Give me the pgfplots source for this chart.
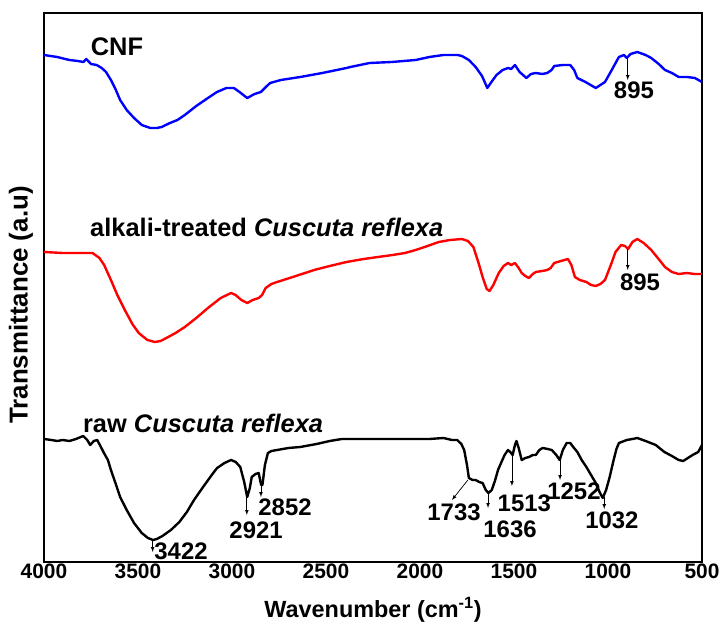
\documentclass[border=0pt]{standalone}
\usepackage{fontspec}
\setmainfont{Liberation Sans}
\usepackage{pgfplots}
\pgfplotsset{compat=1.18}

% y values are on an arbitrary (offset) transmittance scale
\pgfplotstableread{
x y
4000 580
3930 578
3865 575
3820 574
3790 573
3775 576
3750 571
3720 570
3693 567
3670 563
3644 555
3620 546
3595 535
3560 525
3521 517
3480 510
3435 507
3400 507
3374 508
3330 512
3290 515
3251 520
3190 529
3128 537
3080 543
3030 547
2990 547
2960 543
2919 537
2880 541
2846 543
2820 548
2797 552
2740 555
2637 558
2520 562
2391 567
2370 568
2268 572
2150 573
2023 575
1950 578
1875 580
1800 580
1777 579
1740 575
1704 568
1670 559
1642 547
1620 553
1593 560
1560 565
1532 567
1515 566
1495 570
1470 563
1434 557
1410 561
1384 562
1350 561
1323 562
1300 565
1286 569
1240 570
1201 570
1180 565
1163 557
1120 553
1065 547
1040 550
1016 553
980 565
942 578
915 580
900 577
880 581
844 583
800 580
770 577
730 571
697 565
660 562
624 558
580 558
538 557
500 553
}\cnf

\pgfplotstableread{
x y
4000 383
3900 382
3800 382
3742 382
3705 377
3680 370
3644 355
3610 340
3570 325
3530 311
3496 302
3450 295
3410 293
3380 294
3349 297
3300 302
3251 308
3190 317
3128 327
3060 337
3005 342
2981 340
2950 335
2919 332
2890 335
2858 337
2840 340
2821 347
2790 351
2760 353
2660 359
2563 365
2480 369
2391 373
2300 376
2146 380
2080 382
2023 385
1960 389
1900 393
1840 395
1777 396
1745 394
1716 388
1690 373
1667 358
1645 346
1630 344
1610 350
1581 362
1555 369
1532 372
1515 370
1495 372
1475 367
1459 362
1440 359
1421 357
1400 361
1384 363
1350 364
1323 365
1305 367
1286 372
1250 374
1213 376
1195 370
1176 358
1150 355
1115 353
1090 350
1065 349
1040 351
1016 355
985 370
960 383
930 390
910 389
893 386
870 393
844 396
810 392
770 385
735 377
697 368
660 363
624 361
580 362
540 361
500 361
}\alkali

\pgfplotstableread{
x y
4000 196
3960 195
3930 194
3900 195
3865 194
3830 196
3791 199
3770 195
3754 190
3735 194
3717 195
3700 189
3681 182
3660 175
3644 165
3620 152
3595 138
3560 125
3521 112
3480 102
3447 97
3420 95
3400 96
3370 99
3325 105
3280 113
3240 123
3202 135
3150 149
3100 162
3079 167
3040 172
3005 175
2980 173
2956 168
2935 153
2919 138
2905 147
2895 158
2875 161
2858 162
2845 150
2838 150
2825 170
2809 182
2790 184
2760 185
2700 187
2637 188
2550 191
2480 194
2416 196
2300 196
2100 196
1950 196
1875 197
1830 195
1802 195
1780 191
1765 185
1750 170
1740 157
1720 155
1704 155
1685 153
1667 152
1650 145
1636 142
1618 145
1600 155
1585 165
1569 172
1550 180
1532 185
1520 183
1507 180
1495 190
1487 194
1475 187
1459 175
1440 177
1420 178
1400 180
1384 180
1365 185
1348 187
1320 186
1299 185
1275 180
1257 175
1240 185
1220 192
1201 192
1185 188
1163 183
1140 175
1115 168
1090 160
1065 152
1045 143
1028 137
1010 145
991 158
970 175
955 186
942 192
900 195
870 196
844 197
800 194
746 190
700 183
660 179
624 175
600 174
575 177
550 180
520 183
500 190
}\raw

\begin{document}
\begin{tikzpicture}
\useasboundingbox (-44bp,-73bp) rectangle (681bp,562bp);
\begin{axis}[
    width=658bp, height=549bp, scale only axis,
    xmin=500, xmax=4000, x dir=reverse,
    ymin=73, ymax=622,
    xtick={500,1000,1500,2000,2500,3000,3500,4000},
    ytick=\empty,
    xtick style={draw=none},
    axis line style={line width=2.4pt},
    clip=false,
    /pgf/number format/assume math mode=true,
    /pgf/number format/1000 sep={},
    xticklabel style={font=\fontsize{21}{21}\selectfont\bfseries, inner sep=1.5bp},
    xlabel={Wavenumber (cm\textsuperscript{-1})},
    ylabel={Transmittance (a.u)},
    xlabel style={font=\fontsize{23.5}{23.5}\selectfont\bfseries,
        at={(axis description cs:0.5,-0.087)}, anchor=center},
    ylabel style={font=\fontsize{26}{26}\selectfont\bfseries,
        at={(axis description cs:-0.035,0.468)}, anchor=center},
    every axis plot/.append style={line width=2.4pt, line join=round},
]
\addplot[color=blue] table[x=x, y=y] {\cnf};
\addplot[color=red] table[x=x, y=y] {\alkali};
\addplot[color=black] table[x=x, y=y] {\raw};

% curve labels
\tikzset{cl/.style={font=\fontsize{25.5}{25.5}\selectfont\bfseries, inner sep=0pt}}
\node[cl] at (axis cs:3612,588) {CNF};
\node[cl, anchor=west] at (axis cs:3755,408)
    {alkali-treated \textit{Cuscuta reflexa}};
\node[cl, anchor=west] at (axis cs:3793,212)
    {raw \textit{Cuscuta reflexa}};

% peak annotations
\tikzset{pk/.style={font=\fontsize{24}{24}\selectfont\bfseries, inner sep=0pt},
         ar/.style={-latex, line width=0.7pt}}
\draw[ar] (axis cs:895,577) -- (axis cs:895,555);
\node[pk] at (axis cs:862,545) {895};
\draw[ar] (axis cs:895,386) -- (axis cs:895,365);
\node[pk] at (axis cs:830,353) {895};

\draw[ar] (axis cs:3422,95) -- (axis cs:3422,83);
\node[pk] at (axis cs:3271,84) {3422};
\draw[ar] (axis cs:2921,138) -- (axis cs:2921,120);
\node[pk] at (axis cs:2872,105) {2921};
\draw[ar] (axis cs:2846,150) -- (axis cs:2846,138);
\node[pk] at (axis cs:2718,128) {2852};
\draw[ar] (axis cs:1745,155) -- (axis cs:1830,135);
\node[pk] at (axis cs:1819,123) {1733};
\draw[ar] (axis cs:1638,143) -- (axis cs:1638,127);
\node[pk] at (axis cs:1521,106) {1636};
\draw[ar] (axis cs:1511,182) -- (axis cs:1511,149);
\node[pk] at (axis cs:1445,132) {1513};
\draw[ar] (axis cs:1255,175) -- (axis cs:1255,155);
\node[pk] at (axis cs:1181,144) {1252};
\draw[ar] (axis cs:1020,138) -- (axis cs:1020,126);
\node[pk] at (axis cs:979,115) {1032};
\end{axis}
\end{tikzpicture}
\end{document}
